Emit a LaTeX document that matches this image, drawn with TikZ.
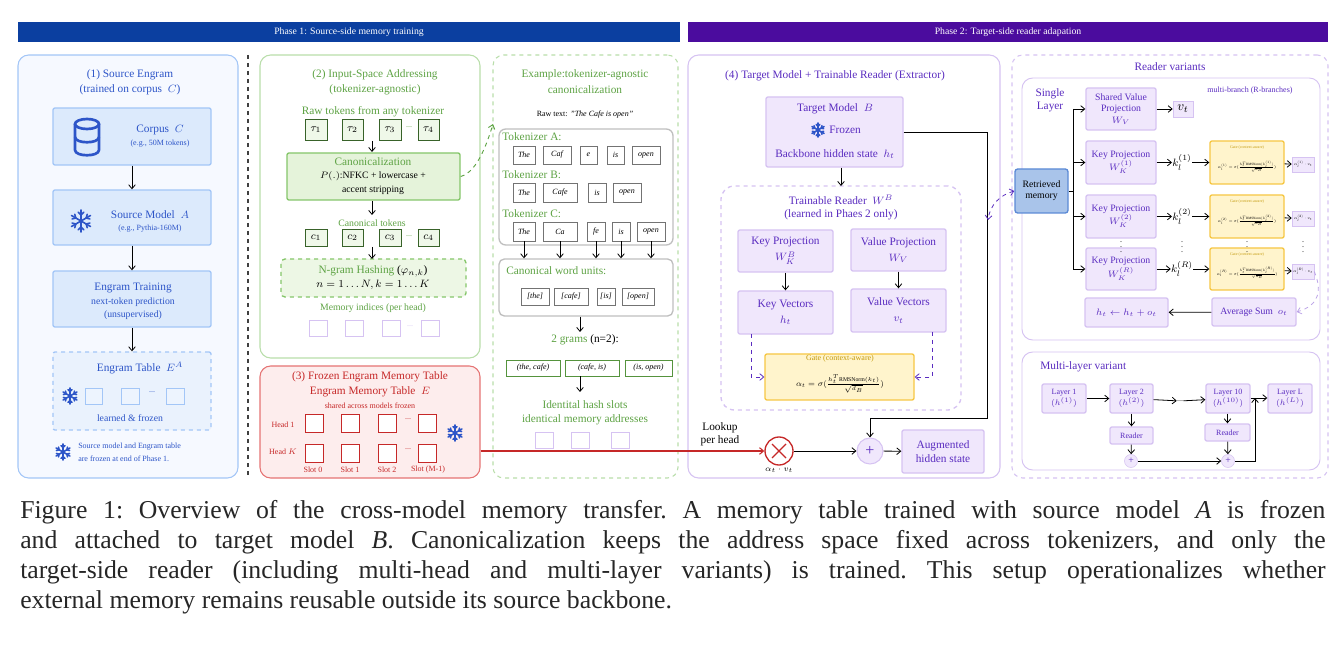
\documentclass[tikz,border=0pt]{standalone}
\usepackage{fontspec}
\setmainfont{Liberation Serif}
\usepackage{amsmath,graphicx}
\usetikzlibrary{arrows.meta}
\definecolor{pA}{HTML}{0B3FA0}\definecolor{pB}{HTML}{4B0C9E}
\definecolor{bt}{HTML}{2D55C8}\definecolor{bf}{HTML}{DCEAFC}\definecolor{bb}{HTML}{A3C6F7}\definecolor{pfA}{HTML}{F6F9FF}
\definecolor{gt}{HTML}{5EA344}\definecolor{gf}{HTML}{E5F3DA}\definecolor{gb}{HTML}{85C66A}\definecolor{gpb}{HTML}{B9DEAA}
\definecolor{rt}{HTML}{C62828}\definecolor{rf}{HTML}{FDEDED}\definecolor{rb}{HTML}{E57373}
\definecolor{pt}{HTML}{5A2CC0}\definecolor{pf}{HTML}{F0E7FC}\definecolor{pb}{HTML}{D6C3F2}
\definecolor{yf}{HTML}{FFF4CC}\definecolor{yb}{HTML}{F6C744}\definecolor{yt}{HTML}{C49A0C}
\definecolor{rmf}{HTML}{A9C4EA}\definecolor{rmb}{HTML}{5B8AD6}
\newcommand\fA{\fontsize{8.5}{10}\selectfont}
\newcommand\fB{\fontsize{7.3}{8.5}\selectfont}
\newcommand\fC{\fontsize{6}{7}\selectfont}
\newcommand\fD{\fontsize{3}{3.5}\selectfont}
\newcommand\B[7][]{\node[#1,minimum width={(#5-#3)*0.75pt},minimum height={(#6-#4)*0.75pt}] (#2) at ({(#3+#5)/2},{(#4+#6)/2}) {#7};}
\newcommand\snow[4]{\begin{scope}[shift={(#1,#2)},line width=1.2pt,draw=#4,line cap=round]\foreach \a in {30,90,...,330}{\draw (0,0)--(\a:#3); \draw (\a:{0.55*#3})--++({\a+45}:{0.35*#3}); \draw (\a:{0.55*#3})--++({\a-45}:{0.35*#3});}\end{scope}}
\begin{document}
\begin{tikzpicture}[x=0.75pt,y=-0.75pt,inner sep=0pt,
 arr/.style={-{Straight Barb[length=3pt,width=5pt]},black,line width=0.6pt},
 pan/.style={draw,rounded corners=8pt,line width=0.8pt},
 bbox/.style={draw=bb,fill=bf,line width=1pt,rounded corners=1.5pt},
 tb/.style={text=bt,font=\fA},
 gtx/.style={text=gt,font=\fA},
 tok/.style={draw=gt!60!black,fill=gf!60,line width=0.6pt,font=\fA},
 itok/.style={draw=black!55,fill=white,line width=0.6pt,font=\fC\itshape},
 gtok/.style={draw=gt!90!black,fill=white,line width=0.6pt,font=\fC\itshape},
 psq/.style={draw=pb,fill=white,line width=0.6pt},
 bsq/.style={draw=bb,fill=bf!50,line width=0.6pt},
 rsq/.style={draw=rt,fill=white,line width=0.7pt},
 pbox/.style={draw=pb,fill=pf,line width=1pt,rounded corners=1.5pt,text=pt,font=\fA,align=center},
 ptx/.style={text=pt,font=\fA},
 gate/.style={draw=yb,fill=yf,line width=1pt,rounded corners=1.5pt},
 pdash/.style={-{Straight Barb[length=3pt,width=5pt]},pt,dashed,line width=0.6pt}]
\useasboundingbox (0,0) rectangle (1343,645);
% banners
\B[fill=pA]{ban1}{18}{22}{680}{42}{\textcolor{white}{\fB Phase 1: Source-side memory training}}
\B[fill=pB]{ban2}{688}{22}{1328}{42}{\textcolor{white}{\fB Phase 2: Target-side reader adapation}}
% ---------- panel 1
\B[pan,draw=bb,fill=pfA]{P1}{18}{55}{238}{478}{}
\node[tb] (t1a) at (130,75) {(1) Source Engram};
\node[tb] (t1b) at (130,90) {(trained on corpus \ $C$)};
\B[bbox]{corpus}{53}{108}{211}{165}{}
\draw[bt,line width=2pt] (87,124) ellipse [x radius=12,y radius=5];
\draw[bt,line width=2pt] (75,124)--(75,150) .. controls (75,157) and (99,157) .. (99,150)--(99,124);
\draw[bt,line width=2pt] (75,137) .. controls (75,144) and (99,144) .. (99,137);
\node[tb] (ct) at (160,130) {Corpus \ $C$};
\node[text=bt,font=\fC] (cs) at (160,144) {(e.g., 50M tokens)};
\B[bbox]{src}{53}{190}{211}{245}{}
\snow{81}{221}{11}{bt}
\node[tb] (st) at (150,215) {Source Model \ $A$};
\node[text=bt,font=\fC] (ss) at (150,229) {(e.g., Pythia-160M)};
\B[bbox]{etr}{53}{271}{211}{327}{}
\node[tb] (e1) at (133,288) {Engram Training};
\node[text=bt,font=\fB] (e2) at (133,302) {next-token prediction};
\node[text=bt,font=\fB] (e3) at (133,315) {(unsupervised)};
\B[bbox,dashed,fill=bf!60]{etab}{53}{352}{211}{430}{}
\node[tb] (et) at (140,368) {Engram Table \ $E^A$};
\snow{70}{396}{8}{bt}
\B[bsq]{s1}{85}{388}{102}{404}{}\B[bsq]{s2}{121}{388}{139}{404}{}\B[bsq]{s3}{166}{388}{184}{404}{}
\node[text=bt,font=\fC] (d1) at (152,392) {...};
\node[text=bt,font=\fB] (lf) at (130,418) {learned \& frozen};
\snow{63}{452}{8}{bt}
\node[text=bt,font=\fC,anchor=west] (n1) at (78,447) {Source model and Engram table};
\node[text=bt,font=\fC,anchor=west] (n2) at (78,459) {are frozen at end of Phase 1.};
\draw[arr] (corpus)--(src); \draw[arr] (src)--(etr); \draw[arr] (etr)--(etab);
\draw[black!75,dashed,line width=1.2pt] (248,55)--(248,478);
% ---------- panel 2
\B[pan,draw=gpb,fill=white]{P2}{260}{55}{480}{358}{}
\node[gtx] (t2a) at (375,75) {(2) Input-Space Addressing};
\node[gtx] (t2b) at (375,90) {(tokenizer-agnostic)};
\node[gtx] (rt) at (373,112) {Raw tokens from any tokenizer};
\B[tok]{ta1}{305}{119}{327}{140}{$\tau_1$}\B[tok]{ta2}{342}{119}{363}{140}{$\tau_2$}
\B[tok]{ta3}{379}{119}{401}{140}{$\tau_3$}\B[tok]{ta4}{418}{119}{439}{140}{$\tau_4$}
\node[font=\fC,gt] (td) at (409,127) {...};
\B[draw=gb,fill=gf,line width=1pt,rounded corners=1.5pt]{canon}{287}{153}{460}{200}{}
\node[gtx] (cn1) at (373,162) {Canonicalization};
\node[font=\fB] (cn2) at (373,176) {$P(.)$:NFKC + lowercase +};
\node[font=\fB] (cn3) at (373,190) {accent stripping};
\coordinate (a2a) at (372,141); \coordinate (a2b) at (372,152);
\draw[arr] (a2a)--(a2b);
\node[text=gt,font=\fB] (ctk) at (372,223) {Canonical tokens};
\coordinate (a3a) at (372,201); \coordinate (a3b) at (372,215);
\draw[arr] (a3a)--(a3b);
\B[tok]{c1}{305}{229}{327}{246}{$c_1$}\B[tok]{c2}{342}{229}{363}{246}{$c_2$}
\B[tok]{c3}{379}{229}{401}{246}{$c_3$}\B[tok]{c4}{418}{229}{439}{246}{$c_4$}
\node[font=\fC,gt] (cd) at (409,236) {...};
\B[draw=gb,dashed,fill=gf!70,line width=1pt,rounded corners=3pt]{ngram}{281}{259}{466}{297}{}
\coordinate (a4a) at (372,247); \coordinate (a4b) at (372,259);
\draw[arr] (a4a)--(a4b);
\node[gtx] (ng1) at (373,271) {N-gram Hashing \textcolor{black}{($\varphi_{n,k}$)}};
\node[font=\fA] (ng2) at (373,285) {$n=1\ldots N, k=1\ldots K$};
\node[text=gt,font=\fB] (mi) at (373,308) {Memory indices (per head)};
\B[psq]{m1}{309}{320}{327}{336}{}\B[psq]{m2}{345}{320}{363}{336}{}\B[psq]{m3}{382}{320}{400}{336}{}\B[psq]{m4}{421}{320}{439}{336}{}
\node[font=\fC,pb] (md) at (410,326) {...};
% ---------- panel 3
\B[pan,draw=rb,fill=rf]{P3}{260}{366}{480}{478}{}
\node[text=rt,font=\fA] (t3a) at (370,377) {(3) Frozen Engram Memory Table};
\node[text=rt,font=\fA] (t3b) at (370,392) {Engram Memory Table \ $E$};
\node[text=rt,font=\fC] (t3c) at (370,406) {shared across models frozen};
\node[text=rt,font=\fC] (h1) at (283,425) {Head 1};
\node[text=rt,font=\fC] (hk) at (283,452) {Head $K$};
\foreach \x/\n in {305/a,341/b,378/c,418/d}{\B[rsq]{r1\n}{\x}{414}{(\x+18)}{432}{}\B[rsq]{r2\n}{\x}{444}{(\x+18)}{462}{}}
\node[font=\fC,rt] (rd1) at (408,419) {...};\node[font=\fC,rt] (rd2) at (408,449) {...};
\node[text=rt,font=\fC] (sl0) at (313,470) {Slot 0};\node[text=rt,font=\fC] (sl1) at (350,470) {Slot 1};
\node[text=rt,font=\fC] (sl2) at (387,470) {Slot 2};\node[text=rt,font=\fC] (sl3) at (428,470) {Slot (M-1)};
\snow{455}{433}{8}{bt}
% ---------- example panel
\B[pan,draw=gpb,dashed,fill=white]{PE}{493}{55}{678}{478}{}
\node[gtx] (tea) at (585,75) {Example:tokenizer-agnostic};
\node[gtx] (teb) at (585,90) {canonicalization};
\node[font=\fC] (raw) at (585,115) {Raw text: \textit{"The Cafe is open"}};
\B[draw=black!25,line width=1pt,rounded corners=5pt]{tokz}{499}{129}{673}{245}{}
\node[gtx,anchor=west] (tA) at (502,137) {Tokenizer A:};
\B[itok]{a1}{513}{146}{535}{164}{The}\B[itok]{a2}{543}{146}{571}{164}{Caf}\B[itok]{a3}{580}{146}{597}{164}{e}\B[itok]{a4}{607}{146}{624}{164}{is}\B[itok]{a5}{632}{146}{660}{164}{open}
\node[gtx,anchor=west] (tB) at (502,175) {Tokenizer B:};
\B[itok]{b1}{513}{183}{535}{202}{The}\B[itok]{b2}{543}{183}{577}{202}{Cafe}\B[itok]{b3}{588}{183}{606}{202}{is}\B[itok]{b4}{613}{183}{641}{202}{open}
\node[gtx,anchor=west] (tC) at (502,214) {Tokenizer C:};
\B[itok]{k1}{513}{222}{535}{241}{The}\B[itok]{k2}{543}{222}{577}{241}{Ca}\B[itok]{k3}{587}{222}{605}{241}{fe}\B[itok]{k4}{612}{222}{630}{241}{is}\B[itok]{k5}{637}{222}{665}{241}{open}
\B[draw=black!25,line width=1pt,rounded corners=4pt]{cwu}{499}{259}{673}{316}{}
\foreach \n in {1,...,5}{\draw[arr] (k\n.south) -- (k\n.south |- cwu.north);}
\node[gtx,anchor=west] (cwt) at (506,271) {Canonical word units:};
\B[itok]{w1}{521}{288}{549}{305}{[the]}\B[itok]{w2}{554}{288}{588}{305}{[cafe]}\B[itok]{w3}{597}{288}{615}{305}{[is]}\B[itok]{w4}{622}{288}{654}{305}{[open]}
\node[gtx] (gr) at (585,340) {2 grams \textcolor{black}{(n=2):}};
\draw[arr] (cwu.south -| 580,0) -- (580,332);
\B[gtok]{g1}{506}{360}{560}{376}{(the, cafe)}\B[gtok]{g2}{565}{360}{619}{376}{(cafe, is)}\B[gtok]{g3}{625}{360}{672}{376}{(is, open)}
\draw[arr] (g2.south -| 580,0) -- (580,392);
\node[gtx] (ih1) at (585,405) {Identital hash slots};
\node[gtx] (ih2) at (585,420) {identical memory addresses};
\B[psq]{q1}{535}{432}{553}{448}{}\B[psq]{q2}{571}{432}{589}{448}{}\B[psq]{q3}{611}{432}{629}{448}{}
\draw[gt,dashed,line width=0.7pt,-{Straight Barb[length=3pt,width=5pt]}] (canon.east) .. controls (478,172) and (488,140) .. (493,124);
% ---------- panel 4
\B[pan,draw=pb,fill=white]{P4}{688}{55}{1000}{478}{}
\node[ptx] (t4) at (835,76) {(4) Target Model + Trainable Reader (Extractor)};
\B[pbox]{tm}{766}{97}{903}{167}{}
\node[ptx] (tm1) at (835,109) {Target Model \ $B$};
\snow{818}{130}{7}{bt}
\node[ptx] (tm2) at (845,130) {Frozen};
\node[ptx] (tm3) at (835,154) {Backbone hidden state \ $h_t$};
\B[draw=pb,dashed,line width=1pt,rounded corners=10pt]{tr}{721}{186}{961}{410}{}
\draw[arr] (tm.south -| 841,0) -- (841,186);
\node[ptx] (tr1) at (841,200) {Trainable Reader \ $W^B$};
\node[ptx] (tr2) at (841,215) {(learned in Phaes 2 only)};
\B[pbox]{kp}{738}{230}{833}{272}{Key Projection\\[2pt]$W_K^B$}
\B[pbox]{vp}{851}{229}{946}{271}{Value Projection\\[2pt]$W_V$}
\B[pbox]{kv}{738}{291}{833}{334}{Key Vectors\\[2pt]$h_t$}
\B[pbox]{vv}{851}{289}{946}{332}{Value Vectors\\[2pt]$v_t$}
\draw[arr] (kp)--(kv); \draw[arr] (vp)--(vv);
\B[gate]{gt}{765}{354}{914}{400}{}
\node[text=yt,font=\fC] (gt1) at (840,359) {Gate (context-aware)};
\node (gt2) at (840,384) {\scalebox{0.85}{\fB$\alpha_t=\sigma(\frac{h_t^T\mathrm{RMSNorm}(k_t)}{\sqrt{d_B}})$}};
\draw[pdash] (751,334) |- (gt.west);
\draw[pdash] (932,332) |- (gt.east);
\node[draw=rt,line width=1pt,circle,minimum size=28*0.75pt,fill=white] (mul) at (779,451) {};
\draw[rt,line width=1pt] (772,444)--(786,458) (772,458)--(786,444);
\node[font=\fC] (mull) at (779,470) {$\alpha_t\cdot v_t$};
\node[font=\fA,align=center] (lk) at (720,434) {Lookup\\per head};
\node[draw=pb,fill=pf,circle,minimum size=26*0.75pt,line width=0.8pt,text=pt,font=\large] (pl) at (870,451) {+};
\B[pbox]{aug}{902}{430}{984}{473}{Augmented\\hidden state}
\draw[arr] (mul)--(pl); \draw[arr] (pl)--(aug);
\draw[arr] (tm.east |- 0,132) -| (987,418) -| (pl.north);
\draw[rt,line width=0.8pt,-{Straight Barb[length=3pt,width=5pt]}] (P3.east |- mul) -- (mul);
% ---------- reader variants
\B[pan,draw=pb,dashed,fill=white]{RV}{1012}{55}{1328}{478}{}
\node[ptx] (rvt) at (1170,67) {Reader variants};
\B[pan,draw=pb,line width=0.7pt,fill=white]{SL}{1022}{78}{1320}{340}{}
\node[ptx,align=center] (slt) at (1050,100) {Single\\Layer};
\node[text=pt,font=\fC] (mb) at (1250,91) {multi-branch (R-branches)};
\B[pbox,font=\fB]{svp}{1086}{88}{1156}{130}{Shared Value\\Projection\\$W_V$}
\B[draw=pb,fill=pf]{vt}{1173}{101}{1193}{117}{$v_t$}
\draw[arr] (svp)--(vt);
\B[draw=rmb,fill=rmf,line width=1pt,rounded corners=2pt,font=\fB,align=center]{rm}{1015}{169}{1068}{213}{Retrieved\\memory}
\foreach \n/\ya/\yb/\s in {1/141/184/(1),2/195/238/(2),3/248/290/(R)}{
 \B[pbox,font=\fB]{kq\n}{1086}{\ya}{1156}{\yb}{Key Projection\\$W_K^{\s}$}
 \node[font=\fA] (kl\n) at (1182,{(\ya+\yb)/2}) {$k_l^{\s}$};
 \B[gate]{g\n}{1210}{\ya}{1284}{\yb}{}
 \node[text=yt,font=\fD] (gl\n) at (1247,\ya+7) {Gate (context-aware)};
 \node (gf\n) at (1247,{(\ya+\yb)/2+4}) {\scalebox{0.5}{\fC$\alpha_l^{\s}=\sigma(\frac{h_t^T\mathrm{RMSNorm}(k_l^{\s})}{\sqrt{d_B}})$}};
 \B[draw=pb,fill=pf]{o\n}{1292}{(\ya+16)}{1314}{(\ya+31)}{\scalebox{0.5}{\fC$\alpha_l^{\s}\cdot v_t$}}
 \draw[arr] (kq\n)--(kl\n); \draw[arr] (kl\n)--(g\n); \draw[arr] (g\n)--(o\n);
 \draw[arr] (1073,{(\ya+\yb)/2}) -- (kq\n);
}
\draw[black,line width=0.6pt] (rm.east)--(1073,191);
\draw[black,line width=0.6pt] (1073,109)--(1073,269);
\draw[arr] (1073,109)--(svp);
\foreach \x in {1121,1182,1247,1303}{\node[font=\fC] at (\x,243) {$\vdots$};}
\B[pbox,font=\fB]{avg}{1212}{298}{1296}{326}{Average Sum \ $o_t$}
\B[pbox,font=\fB]{upd}{1085}{298}{1168}{327}{$h_t\leftarrow h_t+o_t$}
\draw[arr] (avg)--(upd);
\draw[pdash,pb!80!pt] (o3.east) .. controls (1322,290) and (1320,305) .. (avg.east);
\draw[pdash,{Straight Barb[length=3pt,width=5pt]}-{Straight Barb[length=3pt,width=5pt]}] (rm.west) .. controls (1000,195) and (990,205) .. (988,220);
% multi-layer
\B[pan,draw=pb,line width=0.7pt,fill=white]{ML}{1022}{352}{1320}{470}{}
\node[ptx,anchor=west] (mlt) at (1040,367) {Multi-layer variant};
\B[pbox,font=\fC]{L1}{1042}{384}{1086}{413}{Layer 1\\$(h^{(1)})$}
\B[pbox,font=\fC]{L2}{1110}{384}{1153}{413}{Layer 2\\$(h^{(2)})$}
\B[pbox,font=\fC]{L10}{1206}{384}{1250}{413}{Layer 10\\$(h^{(10)})$}
\B[pbox,font=\fC]{LL}{1268}{384}{1312}{413}{Layer L\\$(h^{(L)})$}
\node[font=\fC] (ldots) at (1180,401) {...};
\B[pbox,font=\fC]{R1}{1110}{427}{1153}{444}{Reader}
\B[pbox,font=\fC]{R2}{1205}{424}{1250}{441}{Reader}
\node[draw=pb,fill=pf,circle,minimum size=13*0.75pt,text=pt,font=\fB] (q1p) at (1131,461) {+};
\node[draw=pb,fill=pf,circle,minimum size=13*0.75pt,text=pt,font=\fB] (q2p) at (1228,461) {+};
\draw[arr] (L1)--(L2); \draw[arr] (L2)--(ldots); \draw[arr] (ldots)--(L10); \draw[arr] (L10.east |- 0,398)--(LL.west |- 0,398);
\draw[arr] (L2)--(R1); \draw[arr] (R1)--(q1p); \draw[arr] (L10.south -| R2)--(R2); \draw[arr] (R2)--(q2p);
\draw[arr] (q1p)--(q2p); \draw[arr] (q2p.east) -| (1255,398);
% caption
\node[anchor=north west,text width=979pt,align=justify,font=\fontsize{19.3}{22.5}\selectfont\frenchspacing,text=black!85] (cap) at (20,500) {Figure 1: Overview of the cross-model memory transfer. A memory table trained with source model \textit{A} is frozen\linebreak and attached to target model \textit{B}. Canonicalization keeps the address space fixed across tokenizers, and only the\linebreak target-side reader (including multi-head and multi-layer variants) is trained. This setup operationalizes whether\linebreak external memory remains reusable outside its source backbone.};
\end{tikzpicture}
\end{document}
